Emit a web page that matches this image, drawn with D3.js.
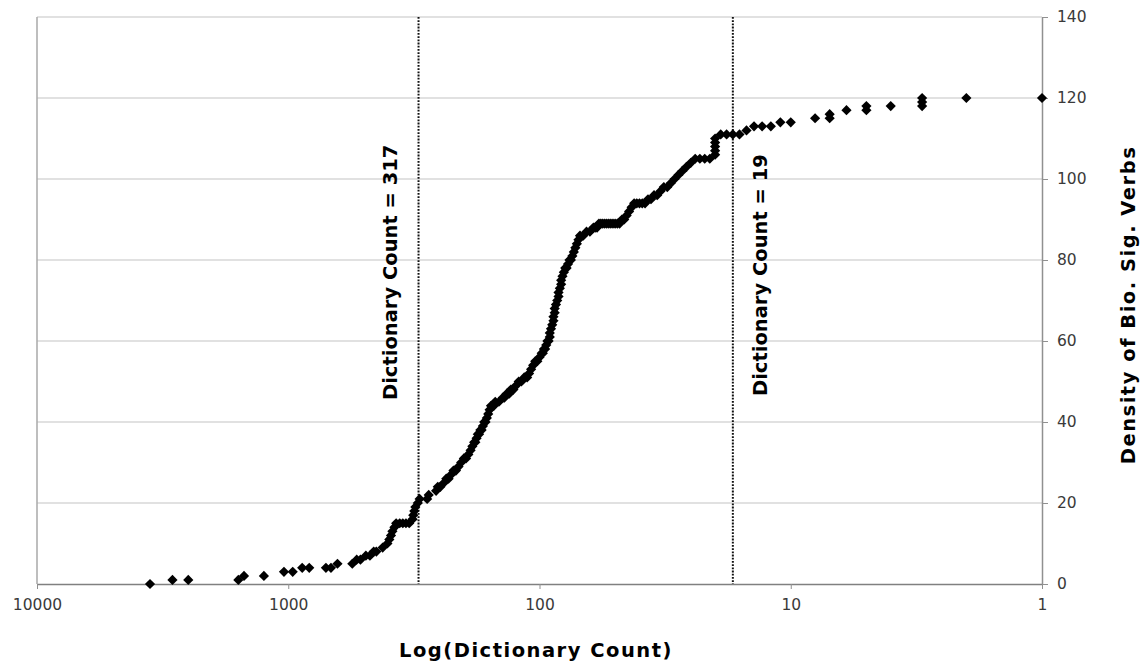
<!DOCTYPE html>
<html>
<head>
<meta charset="utf-8">
<script src="https://cdn.jsdelivr.net/npm/d3@7"></script>
<style>
  html, body { margin: 0; padding: 0; background: #ffffff; }
  svg { display: block; }
</style>
</head>
<body>
<svg id="chart" width="1146" height="664"></svg>
<script>
// ---- data ----
const dictCounts = [
  3550, 2890, 2500, 1580, 1500, 1250, 1040, 960, 880, 825, 708, 676, 637,
  556, 534, 516, 491, 473, 457, 446, 421, 403, 396, 390, 385, 378, 372,
  360, 350, 340, 330, 320, 318, 315, 312, 305, 300, 280, 276, 258, 254, 248,
  240, 235, 230, 225, 220, 215, 210, 205, 200, 196, 192, 188, 185, 182, 180,
  178, 176, 174, 172, 170, 168, 166, 164, 162, 160, 158, 156, 152, 150, 145,
  140, 138, 135, 132, 130, 127, 124, 121, 118, 115, 112, 110, 108, 106, 104,
  102, 100, 98, 97, 96, 95, 94, 93, 92, 91, 91, 90, 89, 88, 88, 87, 87, 86,
  85, 84, 84, 83, 82, 82, 81, 80, 79, 78, 77, 76, 75, 74, 73, 72, 71, 70,
  69, 67, 65, 63, 61, 60, 59, 58, 57, 56, 55, 54, 53, 52, 51, 50, 49, 48,
  47, 46, 45, 44, 43, 42, 41, 40, 39, 38, 37, 36, 35, 34, 33, 32, 31, 30,
  29, 28, 27, 26, 25, 24, 23, 22, 21, 20, 20, 20, 20, 20, 19, 18, 17, 16,
  15, 14, 13, 12, 11, 10, 8, 7, 7, 6, 5, 5, 4, 3, 3, 3, 2, 1
];
const densityValues = [
  0, 1, 1, 1, 2, 2, 3, 3, 4, 4, 4, 4, 5,
  5, 6, 6, 7, 7, 8, 8, 9, 10, 11, 12, 13, 14, 15,
  15, 15, 15, 15, 16, 17, 18, 19, 20, 21, 21, 22, 23, 24, 24,
  25, 26, 26, 27, 28, 28, 29, 30, 31, 31, 32, 33, 34, 35, 35,
  36, 37, 37, 38, 38, 39, 40, 40, 41, 42, 43, 44, 44, 45, 45,
  46, 46, 47, 47, 48, 48, 49, 50, 50, 51, 51, 52, 53, 54, 55,
  55, 56, 57, 57, 58, 58, 59, 60, 60, 61, 62, 63, 64, 65, 66, 67, 68, 69,
  70, 71, 72, 73, 74, 75, 76, 77, 78, 78, 79, 80, 80, 81, 82, 83, 84, 85,
  86, 86, 87, 87, 88, 88, 88, 89, 89, 89, 89, 89, 89, 89, 89, 89, 89, 89,
  90, 90, 91, 92, 93, 94, 94, 94, 94, 94, 95, 95, 96, 96, 97, 98, 98, 99,
  100, 101, 102, 103, 104, 105, 105, 105, 105, 106, 107, 108, 109, 110, 111, 111, 111, 111,
  112, 113, 113, 113, 114, 114, 115, 115, 116, 117, 117, 118, 118, 118, 119, 120, 120, 120
];
const xTickValues = [10000, 1000, 100, 10, 1];
const yTickValues = [0, 20, 40, 60, 80, 100, 120, 140];
const markerCounts = [303, 17];
const markerLabels = ["Dictionary Count = 317", "Dictionary Count = 19"];
const xTitle = "Log(Dictionary Count)";
const yTitle = "Density of Bio. Sig. Verbs";

// ---- layout ----
const plot = { left: 37, right: 1042, top: 17, bottom: 584 };
const svg = d3.select("#chart");

const x = d3.scaleLog().domain([10000, 1]).range([plot.left, plot.right]);
const y = d3.scaleLinear().domain([0, 140]).range([plot.bottom, plot.top]);

const points = dictCounts.map((c, i) => ({ c, v: densityValues[i] }));

// gridlines
svg.append("g")
  .selectAll("line")
  .data(yTickValues.filter(d => d > 0))
  .join("line")
  .attr("x1", plot.left).attr("x2", plot.right)
  .attr("y1", d => y(d)).attr("y2", d => y(d))
  .attr("stroke", "#c4c4c4").attr("stroke-width", 1.2);

// left border
svg.append("line")
  .attr("x1", plot.left).attr("x2", plot.left)
  .attr("y1", y(140)).attr("y2", plot.bottom)
  .attr("stroke", "#a8a8a8").attr("stroke-width", 1.5);

// x axis
const xAxis = d3.axisBottom(x)
  .tickValues(xTickValues)
  .tickFormat(d3.format("d"))
  .tickSize(5)
  .tickSizeOuter(0)
  .tickPadding(10);
const gx = svg.append("g")
  .attr("transform", `translate(0,${plot.bottom})`)
  .call(xAxis);
gx.select(".domain").attr("stroke", "#808080").attr("stroke-width", 1.6);
gx.selectAll(".tick line").attr("stroke", "#909090");
gx.selectAll(".tick text")
  .attr("font-family", "'DejaVu Sans', Verdana, sans-serif")
  .attr("font-size", 15.5)
  .attr("fill", "#3a3a3a");

// y axis (right)
const yAxis = d3.axisRight(y)
  .tickValues(yTickValues)
  .tickSize(6)
  .tickSizeOuter(0)
  .tickPadding(9);
const gy = svg.append("g")
  .attr("transform", `translate(${plot.right},0)`)
  .call(yAxis);
gy.select(".domain").attr("stroke", "#909090").attr("stroke-width", 1.5);
gy.selectAll(".tick line").attr("stroke", "#909090");
gy.selectAll(".tick text")
  .attr("font-family", "'DejaVu Sans', Verdana, sans-serif")
  .attr("font-size", 15.5)
  .attr("fill", "#3a3a3a");

// marker dotted lines
svg.append("g")
  .selectAll("line")
  .data(markerCounts)
  .join("line")
  .attr("x1", d => x(d)).attr("x2", d => x(d))
  .attr("y1", y(140)).attr("y2", plot.bottom)
  .attr("stroke", "#111")
  .attr("stroke-width", 2)
  .attr("stroke-dasharray", "1.8,1.4");

// marker labels
const labelOffsets = [-22, 34];
const labelStarts = [400, 396];
svg.append("g")
  .selectAll("text")
  .data(markerCounts)
  .join("text")
  .attr("transform", (d, i) => `translate(${x(d) + labelOffsets[i]},${labelStarts[i]}) rotate(-90)`)
  .attr("font-family", "'DejaVu Sans', Verdana, sans-serif")
  .attr("font-weight", "bold")
  .attr("font-size", 19.5)
  .attr("fill", "#000")
  .text((d, i) => markerLabels[i]);

// points (diamonds)
const diamond = "M0,-5.1L5.1,0L0,5.1L-5.1,0Z";
svg.append("g")
  .selectAll("path")
  .data(points)
  .join("path")
  .attr("d", diamond)
  .attr("transform", d => `translate(${x(d.c)},${y(d.v)})`)
  .attr("fill", "#000");

// axis titles
svg.append("text")
  .attr("x", 536).attr("y", 657)
  .attr("text-anchor", "middle")
  .attr("font-family", "'DejaVu Sans', Verdana, sans-serif")
  .attr("font-weight", "bold")
  .attr("font-size", 19.5)
  .attr("letter-spacing", 1.5)
  .attr("fill", "#000")
  .text(xTitle);

svg.append("text")
  .attr("transform", `translate(1135,305) rotate(-90)`)
  .attr("text-anchor", "middle")
  .attr("font-family", "'DejaVu Sans', Verdana, sans-serif")
  .attr("font-weight", "bold")
  .attr("font-size", 19.5)
  .attr("letter-spacing", 1.5)
  .attr("fill", "#000")
  .text(yTitle);
</script>
</body>
</html>
